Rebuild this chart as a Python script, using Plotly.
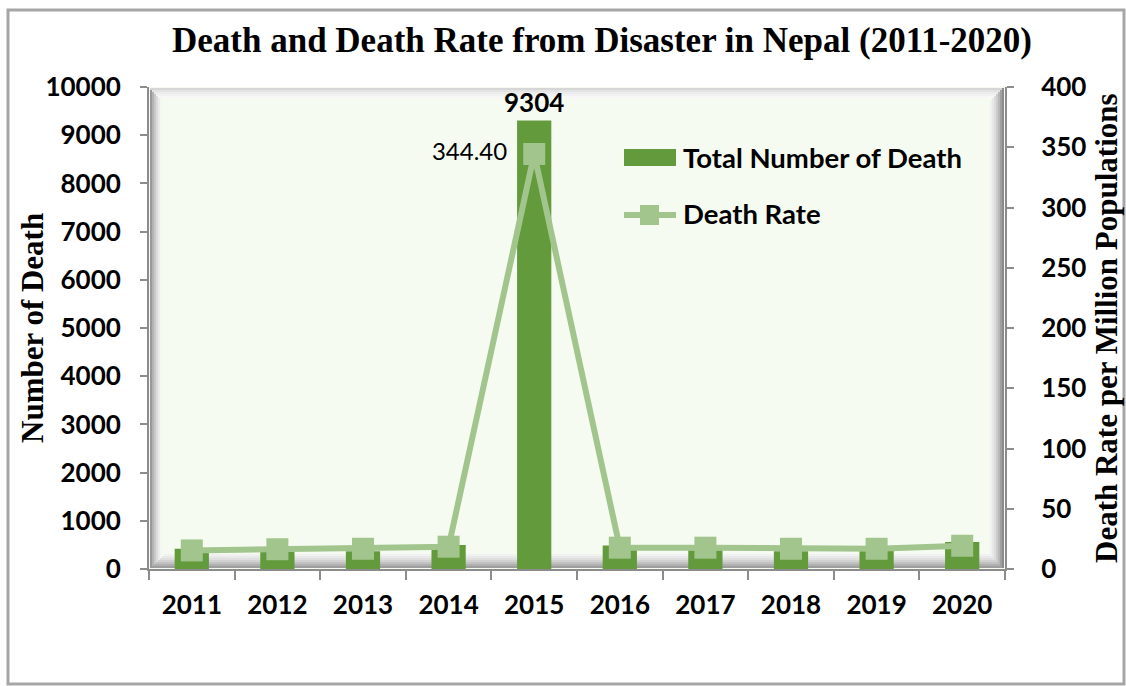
import plotly.graph_objects as go

years = ["2011", "2012", "2013", "2014", "2015", "2016", "2017", "2018", "2019", "2020"]
deaths = [420, 355, 370, 500, 9304, 490, 390, 370, 375, 560]
death_rate = [15.4, 16.4, 16.8, 18.5, 344.40, 17.7, 17.7, 16.8, 16.8, 19.3]
series_names = ["Total Number of Death", "Death Rate"]
y_title = "Number of Death"
y2_title = "Death Rate per Million Populations"

W, H = 1126, 686
L, R, T, B = 149, 1005, 87, 569

def px(x):
    return (x - L) / (R - L)

def py(y):
    return (B - y) / (B - T)

BAR = "#629a3c"
LINE = "#a2c58d"
SANS = "Lato"
SERIF = "Liberation Serif"

bar_text = [str(v) if v == max(deaths) else "" for v in deaths]
rate_text = [f"{v:.2f}  " if v == max(death_rate) else "" for v in death_rate]

fig = go.Figure()
fig.add_trace(go.Bar(
    x=years, y=deaths, name=series_names[0],
    marker=dict(color=BAR, line=dict(width=0)),
    width=0.4, text=bar_text, textposition="outside", constraintext="none",
    textfont=dict(family=SANS, size=26, color="black", weight="bold"),
    cliponaxis=False, showlegend=False,
))
fig.add_trace(go.Scatter(
    x=years, y=death_rate, name=series_names[1], yaxis="y2",
    mode="lines+markers+text",
    line=dict(color=LINE, width=6),
    marker=dict(symbol="square", size=22, color=LINE),
    text=rate_text, textposition="middle left",
    textfont=dict(family=SANS, size=24, color="black"),
    cliponaxis=False, showlegend=False,
))

shapes = []
# outer border
shapes.append(dict(type="rect", xref="paper", yref="paper",
                   x0=px(8), x1=px(1124), y0=py(684), y1=py(10),
                   line=dict(color="#a6a6a6", width=3), fillcolor="rgba(0,0,0,0)",
                   layer="below"))
# bevel: left strip
lefts = ["#9a9a9a", "#b3b3b3", "#c9c9c9", "#dcdcdc", "#ebebeb", "#f4f7f2"]
for i, c in enumerate(lefts):
    shapes.append(dict(type="rect", xref="paper", yref="paper",
                       x0=px(150 + i * 2), x1=px(152 + i * 2), y0=py(568 - i * 2), y1=py(88 + i * 2),
                       line=dict(width=0), fillcolor=c, layer="below"))
# top strip
tops = ["#d6d6d6", "#e3e3e3", "#ececec", "#f2f2f2", "#f7f7f7"]
for i, c in enumerate(tops):
    shapes.append(dict(type="rect", xref="paper", yref="paper",
                       x0=px(150 + i * 2), x1=px(1004 - i * 2), y0=py(90 + i * 2), y1=py(88 + i * 2),
                       line=dict(width=0), fillcolor=c, layer="below"))
# right strip
rights = ["#8a8a8a", "#a0a0a0", "#b8b8b8", "#cccccc", "#dcdcdc", "#e8e8e8", "#f1f1f1"]
for i, c in enumerate(rights):
    shapes.append(dict(type="rect", xref="paper", yref="paper",
                       x0=px(1002 - i * 2), x1=px(1004 - i * 2), y0=py(568 - i * 2), y1=py(88 + i * 2),
                       line=dict(width=0), fillcolor=c, layer="below"))
# bottom floor
floors = ["#9e9e9e", "#b0b0b0", "#c2c2c2", "#d2d2d2", "#dfdfdf", "#e9e9e9", "#f1f1f1"]
for i, c in enumerate(floors):
    shapes.append(dict(type="rect", xref="paper", yref="paper",
                       x0=px(152 + i * 2), x1=px(1002 - i * 2), y0=py(568 - i * 2), y1=py(566 - i * 2),
                       line=dict(width=0), fillcolor=c, layer="below"))

# custom legend symbols
shapes.append(dict(type="rect", xref="paper", yref="paper",
                   x0=px(624), x1=px(676), y0=py(166), y1=py(149),
                   line=dict(width=0), fillcolor=BAR))
shapes.append(dict(type="line", xref="paper", yref="paper",
                   x0=px(624), x1=px(676), y0=py(215), y1=py(215),
                   line=dict(width=6, color=LINE)))
shapes.append(dict(type="rect", xref="paper", yref="paper",
                   x0=px(640), x1=px(659), y0=py(225), y1=py(205),
                   line=dict(width=0), fillcolor=LINE))

annotations = [
    dict(text=series_names[0], xref="paper", yref="paper", x=px(681), y=py(157),
         xanchor="left", yanchor="middle", showarrow=False,
         font=dict(family=SANS, size=27.5, color="black", weight="bold")),
    dict(text=series_names[1], xref="paper", yref="paper", x=px(681), y=py(214),
         xanchor="left", yanchor="middle", showarrow=False,
         font=dict(family=SANS, size=27.5, color="black", weight="bold")),
    dict(text=f"<b>{y_title}</b>", xref="paper", yref="paper", x=px(32), y=py(328),
         xanchor="center", yanchor="middle", textangle=-90, showarrow=False,
         font=dict(family=SERIF, size=31, color="black")),
    dict(text=f"<b>{y2_title}</b>", xref="paper", yref="paper", x=px(1106), y=py(328),
         xanchor="center", yanchor="middle", textangle=-90, showarrow=False,
         font=dict(family=SERIF, size=31, color="black")),
]

axis_common = dict(showgrid=False, zeroline=False, showline=True, linecolor="#8c8c8c",
                   linewidth=2, ticks="outside", tickcolor="#8c8c8c", tickwidth=1.5,
                   automargin=False)
tickfont = dict(family=SANS, size=26, color="black", weight="bold")

fig.update_layout(
    width=W, height=H,
    margin=dict(l=L, r=W - R, t=T, b=H - B, autoexpand=False),
    paper_bgcolor="white",
    plot_bgcolor="#f6fbf2",
    title=dict(text="<b>Death and Death Rate from Disaster in Nepal (2011-2020)</b>",
               x=602 / W, xanchor="center", y=1 - 40 / H, yanchor="middle",
               font=dict(family=SERIF, size=35, color="black")),
    xaxis=dict(**axis_common, type="category", tickson="boundaries", ticklen=9,
               range=[-0.5, 9.5], tickfont=tickfont, ticklabelstandoff=12),
    yaxis=dict(**axis_common, ticklen=7, range=[0, 10000], dtick=1000, tickformat="d",
               tickfont=tickfont, ticklabelstandoff=14),
    yaxis2=dict(**axis_common, ticklen=7, range=[0, 400], dtick=50, overlaying="y", side="right",
                tickfont=tickfont, ticklabelstandoff=22),
    shapes=shapes,
    annotations=annotations,
    showlegend=False,
)

fig.write_html("out.html")
